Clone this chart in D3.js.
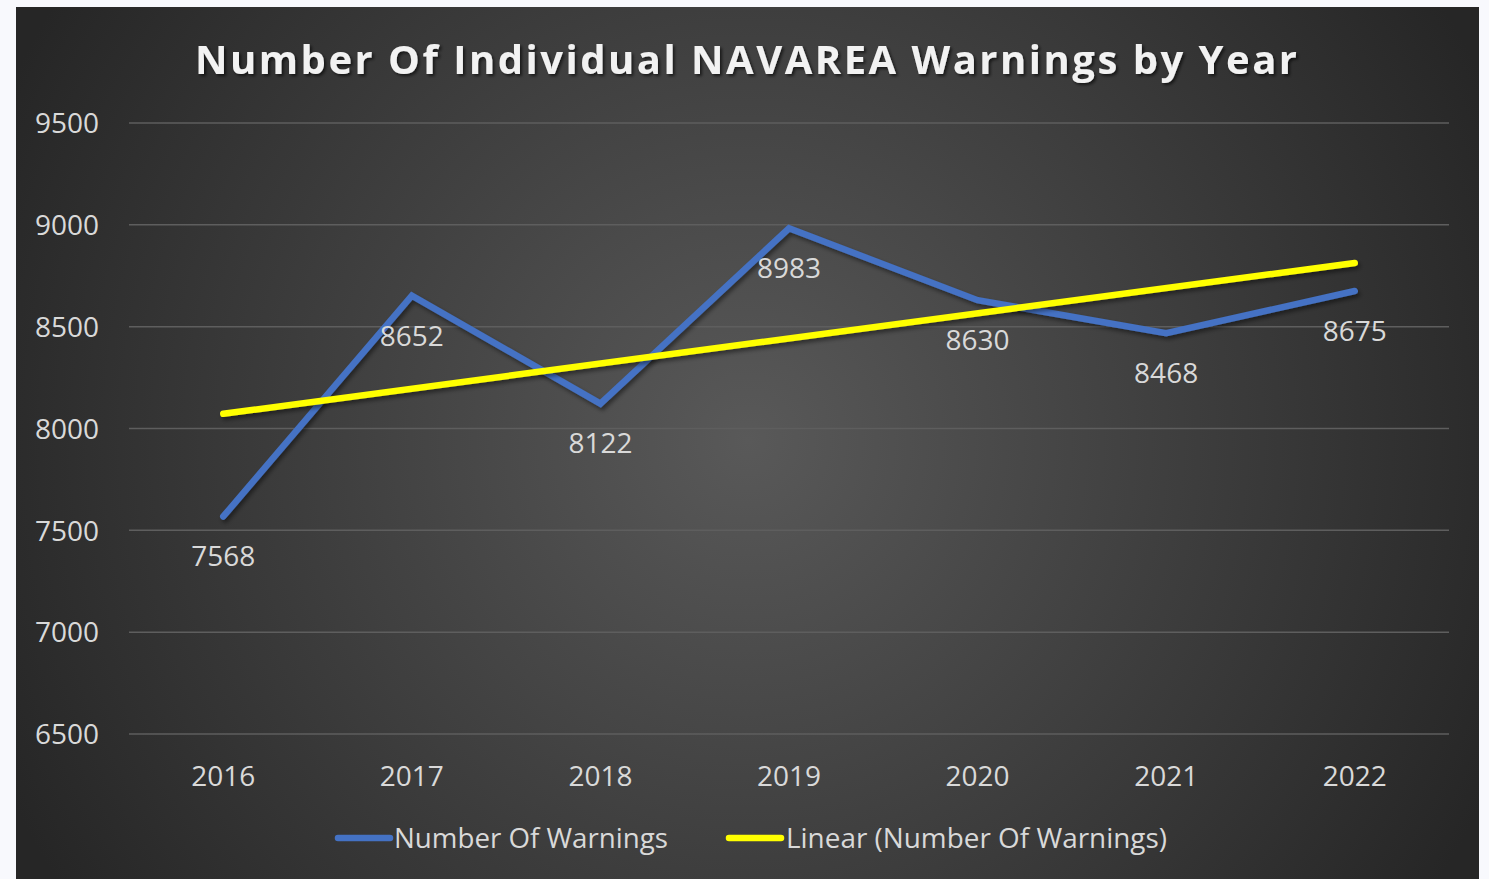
<!DOCTYPE html>
<html>
<head>
<meta charset="utf-8">
<script src="https://cdn.jsdelivr.net/npm/d3@7"></script>
<style>
html,body{margin:0;padding:0;background:#f8f9fd;}
svg{display:block;}
text{font-family:"Open Sans",sans-serif;}
</style>
</head>
<body>
<svg id="chart" width="1489" height="879"></svg>
<script>
const years = ["2016","2017","2018","2019","2020","2021","2022"];
const warnings = [7568, 8652, 8122, 8983, 8630, 8468, 8675];
const trendEnds = [8072, 8813]; // linear trendline at first and last year
const yTicks = [6500, 7000, 7500, 8000, 8500, 9000, 9500];
const titleText = "Number Of Individual NAVAREA Warnings by Year";
const legendLabels = ["Number Of Warnings", "Linear (Number Of Warnings)"];

const svg = d3.select("#chart");
const defs = svg.append("defs");
const grad = defs.append("radialGradient").attr("id","bg")
  .attr("gradientUnits","userSpaceOnUse").attr("cx",748).attr("cy",440).attr("r",820);
grad.append("stop").attr("offset","0%").attr("stop-color","#595959");
grad.append("stop").attr("offset","100%").attr("stop-color","#262626");
const sh = defs.append("filter").attr("id","shadow").attr("x","-10%").attr("y","-10%").attr("width","120%").attr("height","130%");
sh.append("feDropShadow").attr("dx",2).attr("dy",3).attr("stdDeviation",2).attr("flood-color","#000").attr("flood-opacity",0.45);
const tsh = defs.append("filter").attr("id","tshadow").attr("x","-5%").attr("y","-30%").attr("width","110%").attr("height","160%");
tsh.append("feDropShadow").attr("dx",2).attr("dy",2).attr("stdDeviation",1.5).attr("flood-color","#000").attr("flood-opacity",0.6);

svg.append("rect").attr("x",16).attr("y",7).attr("width",1463).attr("height",872).attr("fill","url(#bg)");

const x = d3.scaleBand().domain(years).range([129,1449]);
const y = d3.scaleLinear().domain([6500,9500]).range([734,123]);
const cx = d => x(d) + x.bandwidth()/2;

// gridlines
svg.append("g").selectAll("line").data(yTicks).join("line")
  .attr("x1",129).attr("x2",1449)
  .attr("y1",d=>y(d)).attr("y2",d=>y(d))
  .attr("stroke","#5e5e5e").attr("stroke-width",1.5);

// y axis labels
const yAxis = d3.axisLeft(y).tickValues(yTicks).tickSize(0).tickPadding(0).tickFormat(d3.format("d"));
const gy = svg.append("g").attr("transform","translate(99,0)").call(yAxis);
gy.select(".domain").remove();
gy.selectAll("text").attr("fill","#d9d9d9").attr("font-size",28).attr("font-family","Open Sans").attr("dy","0.35em");

// x axis labels
const xAxis = d3.axisBottom(x).tickSize(0).tickPadding(0);
const gx = svg.append("g").attr("transform","translate(0,776)").call(xAxis);
gx.select(".domain").remove();
gx.selectAll("text").attr("fill","#d9d9d9").attr("font-size",28).attr("font-family","Open Sans").attr("dy","0.35em");

// title
svg.append("text").attr("x",746).attr("y",74).attr("text-anchor","middle")
  .attr("font-size",40).attr("font-weight","bold").attr("fill","#f2f2f2")
  .attr("textLength",1102).attr("lengthAdjust","spacing")
  .attr("filter","url(#tshadow)").text(titleText);

// series line
const line = d3.line().x((d,i)=>cx(years[i])).y(d=>y(d));
svg.append("path").datum(warnings).attr("d",line)
  .attr("fill","none").attr("stroke","#4472c4").attr("stroke-width",6.5)
  .attr("stroke-linecap","round").attr("stroke-linejoin","miter")
  .attr("filter","url(#shadow)");

// trend line
const tline = d3.line().x((d,i)=>cx(years[i*(years.length-1)])).y(d=>y(d));
svg.append("path").datum(trendEnds).attr("d",tline)
  .attr("fill","none").attr("stroke","#ffff00").attr("stroke-width",6.5)
  .attr("stroke-linecap","round").attr("filter","url(#shadow)");

// data labels
svg.append("g").selectAll("text").data(warnings).join("text")
  .attr("x",(d,i)=>cx(years[i])).attr("y",d=>y(d)+40)
  .attr("text-anchor","middle").attr("dy","0.35em")
  .attr("font-size",28).attr("fill","#d9d9d9").text(d=>d);

// legend
const legend = [
  {label:legendLabels[0], color:"#4472c4", x1:338, x2:390, tx:394, tl:274},
  {label:legendLabels[1], color:"#ffff00", x1:729, x2:781, tx:786, tl:381}
];
const lg = svg.append("g");
legend.forEach(l=>{
  lg.append("line").attr("x1",l.x1).attr("x2",l.x2).attr("y1",838).attr("y2",838)
    .attr("stroke",l.color).attr("stroke-width",6.5).attr("stroke-linecap","round");
  lg.append("text").attr("x",l.tx).attr("y",838).attr("dy","0.35em")
    .attr("font-size",28).attr("fill","#d9d9d9")
    .attr("textLength",l.tl).attr("lengthAdjust","spacingAndGlyphs").text(l.label);
});
</script>
</body>
</html>
